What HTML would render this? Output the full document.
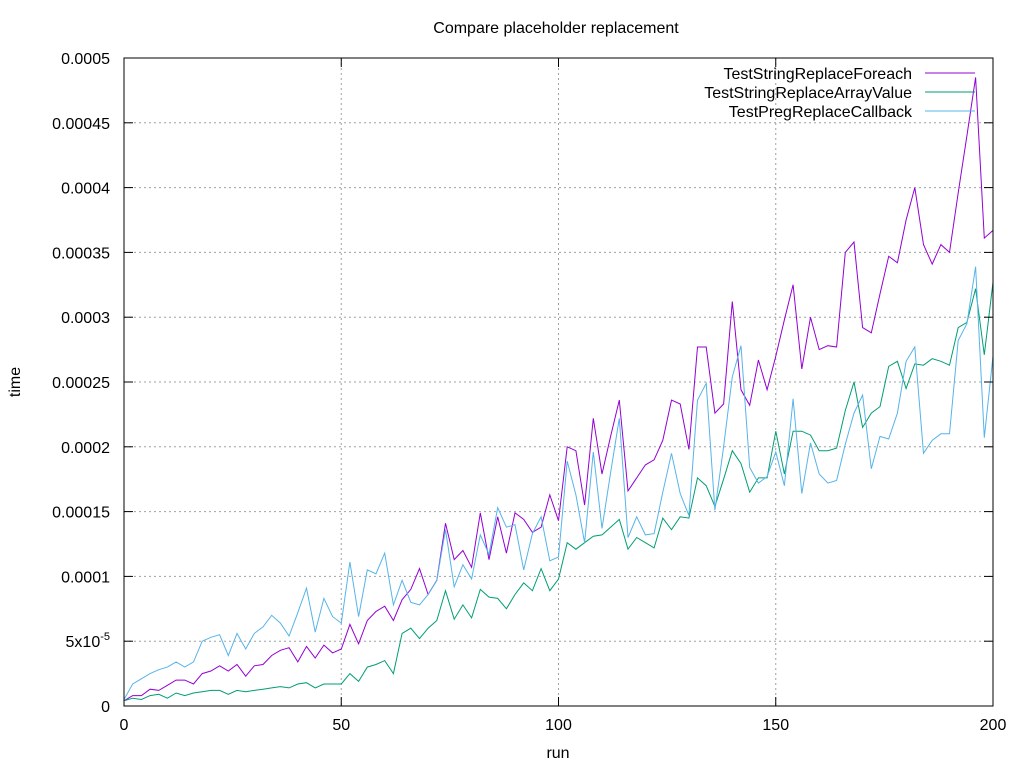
<!DOCTYPE html>
<html><head><meta charset="utf-8">
<style>
html,body{margin:0;padding:0;background:#fff;}
svg{display:block;font-family:"Liberation Sans",sans-serif;}
</style></head>
<body>
<svg id="chart" width="1024" height="768" viewBox="0 0 1024 768" xmlns="http://www.w3.org/2000/svg">
<rect x="0" y="0" width="1024" height="768" fill="#fff"/>
<text x="556" y="33" font-size="16" text-anchor="middle" fill="#000">Compare placeholder replacement</text>
<text x="558" y="758" font-size="16" text-anchor="middle" fill="#000">run</text>
<text x="0" y="0" font-size="16" text-anchor="middle" fill="#000" transform="translate(20,382) rotate(-90)">time</text>
<g id="grid"></g>
<g id="series"></g>
<rect x="124" y="58" width="869" height="648" fill="none" stroke="#000" stroke-width="1"/>
<g id="ticks"></g>
<g id="legend"></g>
</svg>
<script>
const runs = [];
for (let i = 0; i <= 100; i++) runs.push(i * 2);
const unit = 1e-6;
const foreach = [4,8,8,13,12,16,20,20,17,25,27,31,27,32,23,31,32,39,43,45,34,46,37,47,41,44,63,
48,66,73,77,66,82,90,106,86,97,141,113,120,107,149,113,146,118,149,144,134,138,163,143,200,197,
155,222,179,208,236,166,176,186,190,205,236,233,198,277,277,226,233,312,244,232,267,244,
270,298,325,260,300,275,278,277,350,358,292,288,318,347,342,375,400,356,341,356,350,396,440,485,361,367];
const arrayValue = [4,6,5,8,9,6,10,8,10,11,12,12,9,12,11,12,13,14,15,14,17,18,14,17,17,17,25,
19,30,32,35,25,56,60,52,60,66,89,67,78,68,90,84,83,75,86,95,89,106,89,98,
126,121,126,131,132,138,144,121,130,126,122,145,136,146,145,176,170,154,175,197,187,165,176,176,
212,179,212,212,209,197,197,199,228,250,215,226,231,262,266,245,264,263,268,266,263,292,296,322,271,327];
const callback = [5,17,21,25,28,30,34,30,34,50,53,55,39,56,44,56,61,70,64,54,72,91,57,83,69,64,111,
69,105,102,118,78,97,80,78,86,97,136,92,109,98,132,117,153,138,140,105,133,146,112,115,
189,163,126,196,137,180,222,130,146,132,133,165,195,164,147,236,249,151,200,254,278,184,172,177,
196,170,237,164,203,179,172,174,202,226,240,183,208,206,226,266,277,195,205,210,210,282,295,339,207,270];
const seriesNames = ["TestStringReplaceForeach","TestStringReplaceArrayValue","TestPregReplaceCallback"];
const seriesColors = ["#9400d3","#009e73","#56b4e9"];
const xTicks = [0,50,100,150,200];
const yTicks = [0,0.00005,0.0001,0.00015,0.0002,0.00025,0.0003,0.00035,0.0004,0.00045,0.0005];
const yTickLabels = ["0","5x10-5","0.0001","0.00015","0.0002","0.00025","0.0003","0.00035","0.0004","0.00045","0.0005"];

const L=124,R=993,T=58,B=706;
const xs = v => L + (v-0)/(200-0)*(R-L);
const ys = v => B - (v-0)/(0.0005-0)*(B-T);
const NS="http://www.w3.org/2000/svg";
function mk(tag, attrs, parent){const e=document.createElementNS(NS,tag);for(const k in attrs)e.setAttribute(k,attrs[k]);parent.appendChild(e);return e;}
const grid=document.getElementById('grid'), ticks=document.getElementById('ticks');
yTicks.forEach((v,i)=>{
  const y=ys(v);
  if(i>0 && i<yTicks.length-1){const g=mk('line',{x1:L,x2:R,y1:y,y2:y,stroke:'#a0a0a0','stroke-dasharray':'2,3'},grid);
  
  }
  mk('line',{x1:L,x2:L+9,y1:y,y2:y,stroke:'#000'},ticks);
  mk('line',{x1:R-9,x2:R,y1:y,y2:y,stroke:'#000'},ticks);
  const t=mk('text',{x:110,y:y+6,'font-size':16,'text-anchor':'end',fill:'#000'},ticks);
  
  
  const lab=yTickLabels[i];
  if(lab.indexOf('x10')>=0){const p=lab.split('x10');t.textContent=p[0]+'x10';
    const s=mk('tspan',{dy:-7,'font-size':11},t);s.textContent=p[1];}
  else t.textContent=lab;
});
xTicks.forEach((v,i)=>{
  const x=xs(v);
  if(i>0&&i<xTicks.length-1){const g=mk('line',{x1:x,x2:x,y1:T,y2:B,stroke:'#a0a0a0','stroke-dasharray':'2,3'},grid);
  
  }
  mk('line',{x1:x,x2:x,y1:B,y2:B-9,stroke:'#000'},ticks);
  mk('line',{x1:x,x2:x,y1:T,y2:T+9,stroke:'#000'},ticks);
  const t=mk('text',{x:x,y:730,'font-size':16,'text-anchor':'middle',fill:'#000'},ticks);
  
  
  t.textContent=String(v);
});
const sg=document.getElementById('series');
[foreach,arrayValue,callback].forEach((arr,si)=>{
  const pts=arr.map((v,i)=>xs(runs[i]).toFixed(1)+','+ys(v*unit).toFixed(1)).join(' ');
  const p=mk('polyline',{points:pts,fill:'none',stroke:seriesColors[si],'stroke-width':1},sg);
  
  
});
const lg=document.getElementById('legend');
seriesNames.forEach((n,i)=>{
  const y=73+i*19;
  const t=mk('text',{x:912,y:y+6,'font-size':16,'text-anchor':'end',fill:'#000'},lg);
  
  
  t.textContent=n;
  const l=mk('line',{x1:925,x2:975,y1:y,y2:y,stroke:seriesColors[i],'stroke-width':1},lg);
  
  
});
</script>
</body></html>
